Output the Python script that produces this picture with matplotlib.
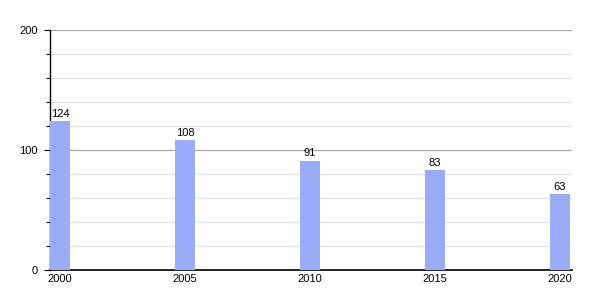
import matplotlib
matplotlib.use("Agg")
import matplotlib.pyplot as plt
from matplotlib.ticker import MultipleLocator

years = [2000, 2005, 2010, 2015, 2020]
values = [124, 108, 91, 83, 63]

plt.rcParams['font.family'] = ['Liberation Sans', 'DejaVu Sans']
plt.rcParams['font.size'] = 8

fig = plt.figure(figsize=(6, 3), dpi=100)
ax = fig.add_axes([50 / 600, 30 / 300, 522 / 600, 240 / 300])

ax.bar(years, values, width=0.8, color='#9aabfa', zorder=3)
for x, v in zip(years, values):
    ax.text(x, v + 2, str(v), ha='center', va='bottom', fontsize=8)

ax.set_xlim(1999.6, 2020.48)
ax.set_ylim(0, 200)
ax.set_xticks(years)
ax.set_xticklabels([str(y) for y in years])
ax.yaxis.set_major_locator(MultipleLocator(100))
ax.yaxis.set_minor_locator(MultipleLocator(20))

ax.grid(axis='y', which='major', color='#aaaaaa', linewidth=0.9, zorder=0)
ax.grid(axis='y', which='minor', color='#e2e2e2', linewidth=0.9, zorder=0)
ax.set_axisbelow(True)

for s in ['top', 'right']:
    ax.spines[s].set_visible(False)
ax.spines['left'].set_linewidth(1.0)
ax.spines['bottom'].set_linewidth(1.2)
ax.tick_params(axis='y', which='major', length=4, width=0.8, pad=5)
ax.tick_params(axis='y', which='minor', length=3, width=0.8)
ax.tick_params(axis='x', length=0, pad=3)

fig.savefig('out.png', dpi=100)
